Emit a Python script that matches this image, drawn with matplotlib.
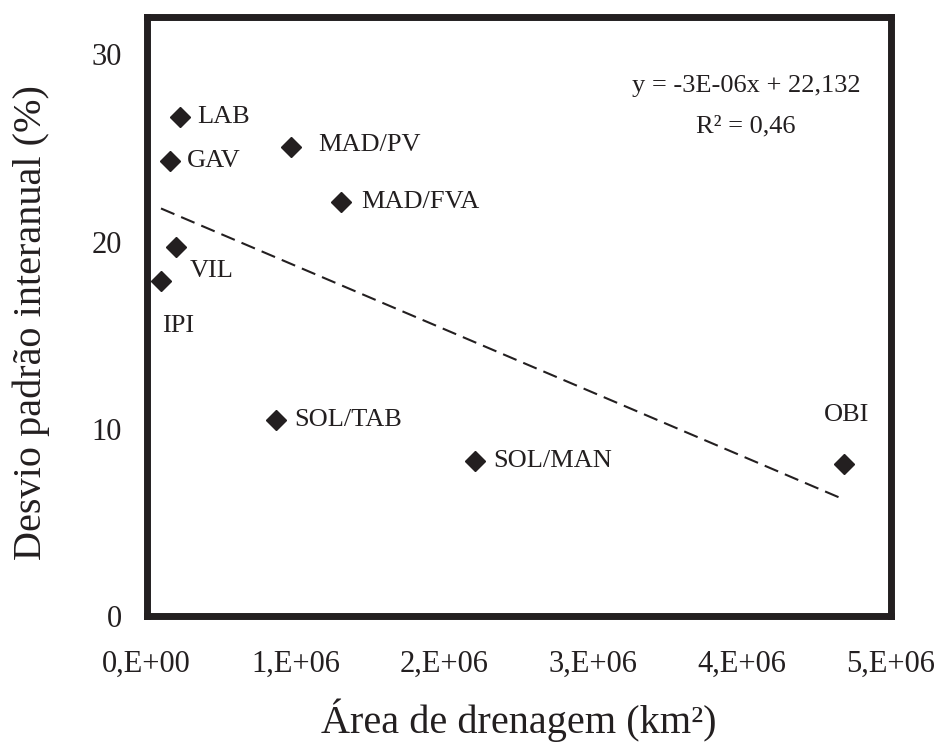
import matplotlib
matplotlib.use('Agg')
import matplotlib.pyplot as plt
import numpy as np

plt.rcParams['font.family'] = ['Liberation Serif', 'DejaVu Serif']

# drainage area (km2) and interannual std deviation (%)
stations = ['LAB', 'GAV', 'MAD/PV', 'MAD/FVA', 'VIL', 'IPI', 'SOL/TAB', 'SOL/MAN', 'OBI']
area_km2 = [0.225e6, 0.158e6, 0.97e6, 1.306e6, 0.198e6, 0.097e6, 0.87e6, 2.206e6, 4.684e6]
desvio = [26.65, 24.3, 25.05, 22.1, 19.7, 17.9, 10.46, 8.28, 8.12]

x_ticks = [0, 1e6, 2e6, 3e6, 4e6, 5e6]
x_ticklabels = ['0,E+00', '1,E+06', '2,E+06', '3,E+06', '4,E+06', '5,E+06']
y_ticks = [0, 10, 20, 30]

# label offsets in pixels (dx, dy, ha)
label_offsets = {
    'LAB': (17, 0, 'left'),
    'GAV': (17, 0, 'left'),
    'MAD/PV': (27, 2, 'left'),
    'MAD/FVA': (20, 0, 'left'),
    'VIL': (14, -24, 'left'),
    'IPI': (1, -45, 'left'),
    'SOL/TAB': (18, 0, 'left'),
    'SOL/MAN': (18, 0, 'left'),
    'OBI': (3, 49, 'center'),
}

ink = '#231f20'

fig = plt.figure(figsize=(9.4, 7.47), dpi=100)
ax = fig.add_axes([0.1559, 0.1747, 0.7920, 0.8032])

ax.plot(area_km2, desvio, linestyle='none', marker='D', markersize=10.5,
        color=ink, zorder=3)

# linear trendline over the data range
slope, intercept = np.polyfit(area_km2, desvio, 1)
xs = np.array([min(area_km2), max(area_km2)])
trend, = ax.plot(xs, slope * xs + intercept, color=ink, linewidth=1.5)
trend.set_dashes([7, 3.5])

for name, xv, yv in zip(stations, area_km2, desvio):
    dx, dy, ha = label_offsets[name]
    ax.annotate(name, (xv, yv), xytext=(dx, dy), textcoords='offset pixels',
                ha=ha, va='center', fontsize=19, color=ink)

ax.text(0.805, 0.884, 'y = -3E-06x + 22,132', transform=ax.transAxes,
        ha='center', va='center', fontsize=19, color=ink)
ax.text(0.805, 0.8175, 'R² = 0,46', transform=ax.transAxes,
        ha='center', va='center', fontsize=19, color=ink)

ax.set_xlim(0, 5e6)
ax.set_ylim(0, 32)
ax.set_xticks(x_ticks)
ax.set_xticklabels(x_ticklabels)
ax.set_yticks(y_ticks)
ax.tick_params(axis='both', length=0, labelsize=22, colors=ink)
ax.tick_params(axis='y', pad=18)
ax.tick_params(axis='x', pad=24)

for sp in ax.spines.values():
    sp.set_linewidth(5)
    sp.set_color(ink)

ax.set_xlabel('Área de drenagem (km²)', fontsize=29, color=ink, labelpad=14)
ax.set_ylabel('Desvio padrão interanual (%)', fontsize=29, color=ink)
ax.yaxis.set_label_coords(-0.13, 0.49)

fig.savefig('out.png', dpi=100)
